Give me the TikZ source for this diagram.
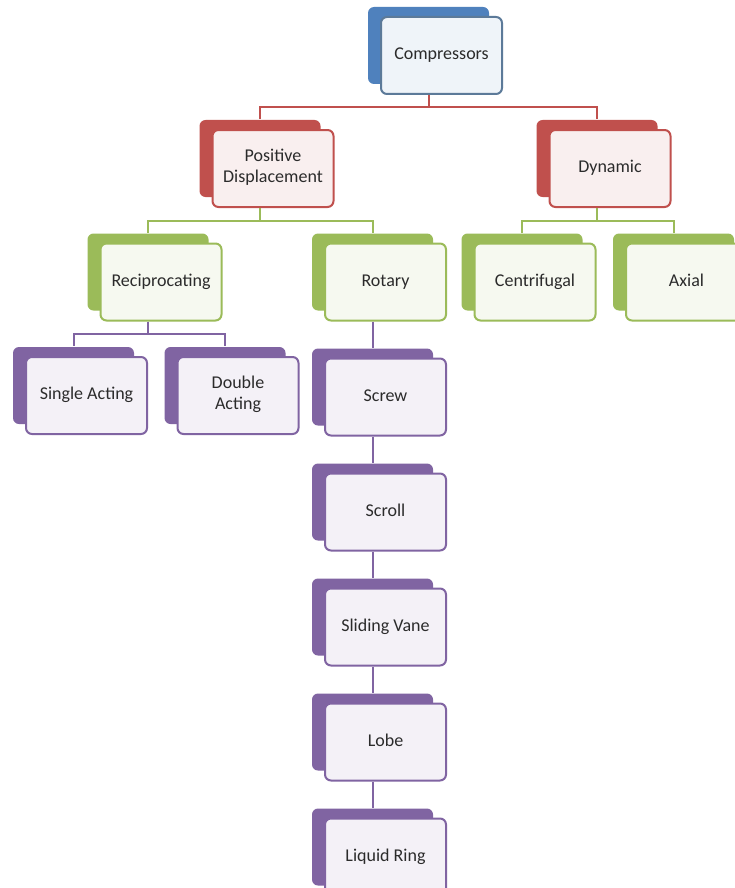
\documentclass[tikz,border=0pt]{standalone}
\usepackage{fontspec}
\setmainfont{Carlito}
\usetikzlibrary{positioning}
\usetikzlibrary{shadows}

\definecolor{tabblue}{HTML}{4F81BD}
\definecolor{edgeblue}{HTML}{5C7A99}
\definecolor{tabred}{HTML}{C0504D}
\definecolor{tabgreen}{HTML}{9BBB59}
\definecolor{tabpurple}{HTML}{8064A2}
\definecolor{txtgray}{HTML}{2B2B2B}

\begin{document}
\begin{tikzpicture}[x=1pt,y=-1pt,node distance=36pt and 28.5pt,
			box/.style={rectangle,rounded corners=6pt,line width=2pt,
				minimum width=121pt,minimum height=77pt,align=center,
				text=txtgray,font=\fontsize{18}{21}\selectfont,
				execute at begin node=\strut},
			blue box/.style={box,draw=edgeblue,fill=tabblue!9,
				general shadow={fill=tabblue,shadow xshift=-13pt,shadow yshift=10pt}},
			red box/.style={box,draw=tabred,fill=tabred!9,
				general shadow={fill=tabred,shadow xshift=-13pt,shadow yshift=10pt}},
			green box/.style={box,draw=tabgreen,fill=tabgreen!9,
				general shadow={fill=tabgreen,shadow xshift=-13pt,shadow yshift=10pt}},
			purple box/.style={box,draw=tabpurple,fill=tabpurple!9,
				general shadow={fill=tabpurple,shadow xshift=-13pt,shadow yshift=10pt}},
			link/.style={line width=2pt}]
			
			\useasboundingbox[fill=white] (0,0) rectangle (734,888);
			
			\node[blue box] (comp) at (441.5,55.5) {Compressors};
			\node[red box] (posdisp) at (273,168.5) {Positive\\Displacement};
			\node[red box] (dyn) at (610,168.5) {Dynamic};
			\node[green box] (recip) at (161,282) {Reciprocating};
			\node[green box] (rotary) at (385.5,282) {Rotary};
			\node[green box] (centri) at (535,282) {Centrifugal};
			\node[green box] (axial) [right=of centri] {Axial};
			\node[purple box] (single) at (86.5,395.5) {Single Acting};
			\node[purple box] (double) [right=of single] {Double\\Acting};
			\node[purple box] (screw) [below=of rotary] {Screw};
			\node[purple box] (scroll) [below=of screw] {Scroll};
			\node[purple box] (vane) [below=of scroll] {Sliding Vane};
			\node[purple box] (lobe) [below=of vane] {Lobe};
			\node[purple box] (liqring) [below=of lobe] {Liquid Ring};
			
			% links run from the box bottom to the top of the coloured tab
			\foreach \from/\to/\col in {comp/posdisp/tabred,comp/dyn/tabred,
				posdisp/recip/tabgreen,posdisp/rotary/tabgreen,
				dyn/centri/tabgreen,dyn/axial/tabgreen,
				recip/single/tabpurple,recip/double/tabpurple}
			\draw[link,\col] ([xshift=-13pt]\from.south) -- ++(0,12.5)
				-| ([xshift=-13pt,yshift=10pt]\to.north);
			
			\foreach \from/\to in {rotary/screw,screw/scroll,scroll/vane,
				vane/lobe,lobe/liqring}
			\draw[link,tabpurple] ([xshift=-13pt]\from.south)
				-- ([xshift=-13pt,yshift=10pt]\to.north);
		\end{tikzpicture}
\end{document}
